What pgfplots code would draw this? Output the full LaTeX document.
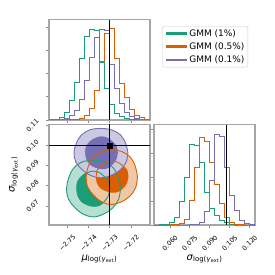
\documentclass[border=0pt]{standalone}
\usepackage{fontspec}
\setmainfont{DejaVu Sans}
\usepackage{pgfplots}
\usepackage{pgfplotstable}
\pgfplotsset{compat=1.18}
\definecolor{cgreen}{HTML}{1B9E77}
\definecolor{corange}{HTML}{D95F02}
\definecolor{cpurple}{HTML}{7570B3}

% 2D contour polygons (x = mu, y = sigma)
\pgfplotstableread{
x y
-2.7249 0.0789
-2.72598 0.08425
-2.72844 0.08907
-2.73274 0.09193
-2.7376 0.09272
-2.74251 0.09206
-2.74676 0.08907
-2.74922 0.08425
-2.7503 0.0789
-2.74945 0.07345
-2.7464 0.06913
-2.74246 0.06587
-2.7376 0.06452
-2.73278 0.066
-2.72862 0.06893
-2.72575 0.07345
-2.7249 0.0789
}\gout
\pgfplotstableread{
x y
-2.73 0.0785
-2.73045 0.0819
-2.7324 0.08453
-2.73481 0.08654
-2.7378 0.08729
-2.74076 0.08646
-2.74331 0.08465
-2.74515 0.0819
-2.74552 0.0785
-2.745 0.07517
-2.74337 0.07229
-2.74073 0.07062
-2.7378 0.0698
-2.73475 0.0703
-2.73234 0.07241
-2.7306 0.07517
-2.73 0.0785
}\gin
\pgfplotstableread{
x y
-2.7169 0.0845
-2.71793 0.08966
-2.72027 0.09431
-2.72437 0.09707
-2.729 0.09783
-2.73368 0.09719
-2.73773 0.09431
-2.74007 0.08966
-2.7411 0.0845
-2.74029 0.07924
-2.73738 0.07508
-2.73363 0.07193
-2.729 0.07063
-2.72441 0.07206
-2.72045 0.07488
-2.71771 0.07924
-2.7169 0.0845
}\oout
\pgfplotstableread{
x y
-2.7214 0.0845
-2.72183 0.08751
-2.7237 0.08984
-2.72603 0.09161
-2.7289 0.09228
-2.73174 0.09154
-2.7342 0.08994
-2.73597 0.08751
-2.73633 0.0845
-2.73583 0.08155
-2.73426 0.079
-2.73172 0.07753
-2.7289 0.0768
-2.72597 0.07724
-2.72365 0.07911
-2.72197 0.08155
-2.7214 0.0845
}\oin
\pgfplotstableread{
x y
-2.7214 0.0965
-2.72248 0.10116
-2.72494 0.10537
-2.72924 0.10787
-2.7341 0.10855
-2.73901 0.10798
-2.74326 0.10537
-2.74572 0.10116
-2.7468 0.0965
-2.74595 0.09174
-2.7429 0.08798
-2.73896 0.08513
-2.7341 0.08395
-2.72928 0.08525
-2.72512 0.0878
-2.72225 0.09174
-2.7214 0.0965
}\pout
\pgfplotstableread{
x y
-2.7264 0.0964
-2.72683 0.09949
-2.7287 0.10187
-2.73103 0.1037
-2.7339 0.10438
-2.73674 0.10363
-2.7392 0.10199
-2.74097 0.09949
-2.74133 0.0964
-2.74083 0.09337
-2.73926 0.09076
-2.73672 0.08925
-2.7339 0.0885
-2.73097 0.08895
-2.72865 0.09087
-2.72697 0.09337
-2.7264 0.0964
}\pin

\pgfplotsset{
  corner/.style={
    scale only axis, width=101bp, height=100.5bp,
    axis line style={black!35, line width=1.2bp},
    tick style={black!45, line width=0.8bp},
    major tick length=3bp, tick align=outside, tick pos=left,
    scaled ticks=false,
    ticklabel style={font=\fontsize{6.5}{7}\selectfont},
    label style={font=\fontsize{9}{10}\selectfont},
  },
  hist/.style={const plot, line width=1bp},
  truth/.style={black, line width=1.4bp, forget plot},
}

\begin{document}
\begin{tikzpicture}
\path[use as bounding box] (0,0) rectangle (275bp,275bp);

% ---------- top-left: mu histogram ----------
\begin{axis}[corner, at={(49bp,155bp)}, anchor=south west,
  xmin=-2.7586, xmax=-2.711, ymin=0, ymax=4.32,
  xtick={-2.75,-2.74,-2.73,-2.72}, xticklabels={},
  ytick={0,1,2,3,4}, yticklabels={},
  legend style={at={(1.119,0.935)}, anchor=north west, draw=black!20,
    rounded corners=2bp, font=\fontsize{9}{10}\selectfont,
    inner xsep=2bp, inner ysep=1.5bp, row sep=2bp,
    nodes={inner sep=1.5bp}},
  legend cell align=left,
  legend image code/.code={\draw[line width=2.6bp] (0bp,0bp) -- (21bp,0bp);},
]
\addplot[hist, cgreen] coordinates {(-2.7586,0) (-2.75622,0.03) (-2.75384,0.12) (-2.75146,0.34) (-2.74908,0.84) (-2.7467,1.63) (-2.74432,2.63) (-2.74194,3.6) (-2.73956,3.88) (-2.73718,3.85) (-2.7348,2.49) (-2.73242,1.36) (-2.73004,0.65) (-2.72766,0.3) (-2.72528,0.15) (-2.7229,0.07) (-2.72052,0.03) (-2.71814,0) (-2.71576,0) (-2.71338,0) (-2.711,0)};
\addlegendentry{GMM (1\%)}
\addplot[hist, corange] coordinates {(-2.7586,0) (-2.75622,0) (-2.75384,0) (-2.75146,0) (-2.74908,0.01) (-2.7467,0.03) (-2.74432,0.07) (-2.74194,0.2) (-2.73956,0.5) (-2.73718,1.25) (-2.7348,2.5) (-2.73242,3.7) (-2.73004,3.94) (-2.72766,2.65) (-2.72528,1.57) (-2.7229,0.95) (-2.72052,0.43) (-2.71814,0.2) (-2.71576,0.09) (-2.71338,0.03) (-2.711,0.03)};
\addlegendentry{GMM (0.5\%)}
\addplot[hist, cpurple] coordinates {(-2.7586,0) (-2.75622,0) (-2.75384,0.02) (-2.75146,0.08) (-2.74908,0.2) (-2.7467,0.42) (-2.74432,0.86) (-2.74194,1.7) (-2.73956,2.7) (-2.73718,3.55) (-2.7348,3.88) (-2.73242,3.85) (-2.73004,2.37) (-2.72766,1.35) (-2.72528,0.7) (-2.7229,0.33) (-2.72052,0.15) (-2.71814,0.06) (-2.71576,0.02) (-2.71338,0) (-2.711,0)};
\addlegendentry{GMM (0.1\%)}
\addplot[truth] coordinates {(-2.73,0) (-2.73,4.32)};
\end{axis}

% ---------- bottom-left: 2D ----------
\begin{axis}[corner, at={(49bp,50bp)}, anchor=south west,
  xmin=-2.7586, xmax=-2.711, ymin=0.0605, ymax=0.1105,
  xtick={-2.75,-2.74,-2.73,-2.72}, xticklabels={−2.75,−2.74,−2.73,−2.72},
  ytick={0.07,0.08,0.09,0.10,0.11}, yticklabels={0.07,0.08,0.09,0.10,0.11},
  xticklabel style={yshift=-15bp, rotate=45, anchor=center},
  yticklabel style={xshift=-13.5bp, rotate=45, anchor=center},
  xlabel={\textit{μ}\textsubscript{log(\textit{γ}\textsubscript{ext})}},
  ylabel={\textit{σ}\textsubscript{log(\textit{γ}\textsubscript{ext})}},
  every axis x label/.style={at={(axis description cs:0.5,-0.338)}, anchor=center},
  every axis y label/.style={at={(axis description cs:-0.35,0.5)}, rotate=90, anchor=center},
]
\addplot[fill=cgreen!33!white, draw=none, smooth, tension=0.6] table {\gout} -- cycle;
\addplot[fill=cgreen, draw=none, smooth, tension=0.6] table {\gin} -- cycle;
\addplot[fill=corange!35!white, draw=none, smooth, tension=0.6] table {\oout} -- cycle;
\addplot[fill=corange, draw=none, smooth, tension=0.6] table {\oin} -- cycle;
\addplot[fill=cpurple!38!white, draw=none, smooth, tension=0.6] table {\pout} -- cycle;
\addplot[fill=cpurple, draw=none, smooth, tension=0.6] table {\pin} -- cycle;
\addplot[cgreen, line width=0.9bp, smooth, tension=0.6] table {\gout};
\addplot[cgreen, line width=0.9bp, smooth, tension=0.6] table {\gin};
\addplot[corange, line width=0.9bp, smooth, tension=0.6] table {\oout};
\addplot[corange, line width=0.9bp, smooth, tension=0.6] table {\oin};
\addplot[cpurple, line width=0.9bp, smooth, tension=0.6] table {\pout};
\addplot[cpurple, line width=0.9bp, smooth, tension=0.6] table {\pin};
\addplot[truth] coordinates {(-2.73,0.0605) (-2.73,0.1105)};
\addplot[truth] coordinates {(-2.7586,0.10) (-2.711,0.10)};
\addplot[only marks, mark=square*, mark size=2.3bp, black] coordinates {(-2.73,0.10)};
\end{axis}

% ---------- bottom-right: sigma histogram ----------
\begin{axis}[corner, at={(154bp,50bp)}, anchor=south west,
  xmin=0.048, xmax=0.124, ymin=0, ymax=4.19,
  xtick={0.060,0.075,0.090,0.105,0.120}, xticklabels={0.060,0.075,0.090,0.105,0.120},
  ytick={0,1,2,3,4}, yticklabels={},
  xticklabel style={yshift=-15bp, rotate=45, anchor=center},
  xlabel={\textit{σ}\textsubscript{log(\textit{γ}\textsubscript{ext})}},
  every axis x label/.style={at={(axis description cs:0.5,-0.338)}, anchor=center},
]
\addplot[hist, cgreen] coordinates {(0.048,0) (0.0518,0.01) (0.0556,0.04) (0.0594,0.12) (0.0632,0.3) (0.067,1.0) (0.0708,2.0) (0.0746,3.35) (0.0784,3.3) (0.0822,2.6) (0.086,1.37) (0.0898,0.69) (0.0936,0.4) (0.0974,0.19) (0.1012,0.09) (0.105,0.03) (0.1088,0) (0.1126,0) (0.1164,0) (0.1202,0) (0.124,0)};
\addplot[hist, corange] coordinates {(0.048,0) (0.0518,0) (0.0556,0) (0.0594,0.01) (0.0632,0.03) (0.067,0.08) (0.0708,0.21) (0.0746,1.04) (0.0784,2.4) (0.0822,3.63) (0.086,3.5) (0.0898,2.6) (0.0936,1.7) (0.0974,0.9) (0.1012,0.33) (0.105,0.12) (0.1088,0.04) (0.1126,0.01) (0.1164,0) (0.1202,0) (0.124,0)};
\addplot[hist, cpurple] coordinates {(0.048,0) (0.0518,0) (0.0556,0) (0.0594,0) (0.0632,0) (0.067,0) (0.0708,0) (0.0746,0.01) (0.0784,0.03) (0.0822,0.12) (0.086,0.55) (0.0898,1.85) (0.0936,3.77) (0.0974,3.7) (0.1012,2.4) (0.105,1.25) (0.1088,0.6) (0.1126,0.2) (0.1164,0.07) (0.1202,0.02) (0.124,0.02)};
\addplot[truth] coordinates {(0.1025,0) (0.1025,4.19)};
\end{axis}
\end{tikzpicture}
\end{document}
